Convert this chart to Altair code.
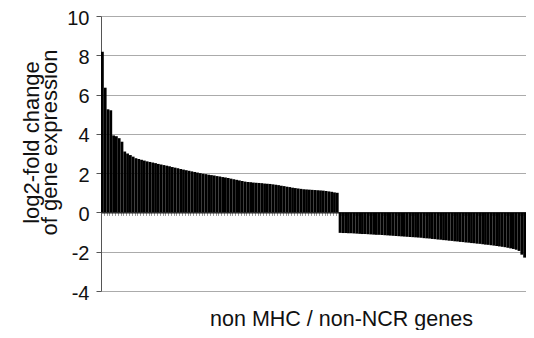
import altair as alt
import pandas as pd

# log2-fold change per gene, sorted descending
positive_values = [
    8.18, 6.35, 5.25, 5.2, 3.92, 3.88, 3.78, 3.6, 3.1, 3.0,
    2.92, 2.84, 2.76, 2.72, 2.68, 2.64, 2.6, 2.57, 2.54, 2.51,
    2.47, 2.44, 2.41, 2.38, 2.35, 2.31, 2.28, 2.25, 2.21, 2.18,
    2.15, 2.12, 2.09, 2.06, 2.03, 2.0, 1.97, 1.95, 1.92, 1.9,
    1.88, 1.85, 1.83, 1.8, 1.78, 1.75, 1.72, 1.69, 1.66, 1.63,
    1.6, 1.57, 1.55, 1.54, 1.52, 1.51, 1.5, 1.49, 1.47, 1.46,
    1.45, 1.43, 1.41, 1.39, 1.36, 1.34, 1.31, 1.29, 1.26, 1.24,
    1.22, 1.2, 1.18, 1.17, 1.16, 1.15, 1.14, 1.13, 1.12, 1.11,
    1.09, 1.07, 1.05, 1.02, 1.0,
]
negative_values = [
    -1.04, -1.05, -1.05, -1.06, -1.06, -1.07, -1.08, -1.09, -1.1, -1.1,
    -1.11, -1.12, -1.13, -1.14, -1.14, -1.15, -1.16, -1.17, -1.18, -1.19,
    -1.2, -1.21, -1.22, -1.23, -1.24, -1.25, -1.26, -1.27, -1.28, -1.29,
    -1.31, -1.32, -1.33, -1.35, -1.36, -1.38, -1.39, -1.41, -1.42, -1.44,
    -1.45, -1.47, -1.48, -1.5, -1.51, -1.53, -1.54, -1.56, -1.57, -1.59,
    -1.6, -1.62, -1.64, -1.65, -1.67, -1.69, -1.71, -1.73, -1.75, -1.77,
    -1.8, -1.83, -1.86, -1.9, -1.96, -2.15, -2.3,
]
y_ticks = [-4, -2, 0, 2, 4, 6, 8, 10]
y_title = ["log2-fold change", "of gene expression"]
x_title = "non MHC / non-NCR genes"

values = positive_values + negative_values
df = pd.DataFrame({"gene": list(range(1, len(values) + 1)), "value": values})

FONT = "Liberation Sans"
H = 275
zero_offset = -4 * H / 14

chart = alt.Chart(df).mark_bar(color="#000000").encode(
    x=alt.X(
        "gene:O",
        sort=None,
        scale=alt.Scale(paddingInner=0, paddingOuter=0),
        axis=alt.Axis(
            labels=False,
            offset=zero_offset,
            domainColor="#000000",
            domainWidth=1,
            tickColor="#9a9a9a",
            tickSize=3,
            tickBand="extent",
            grid=False,
            title=x_title,
            titleFont=FONT,
            titleFontSize=21.5,
            titleFontWeight="normal",
            titleColor="#111111",
            titleX=240,
            titleY=113,
            titleBaseline="alphabetic",
        ),
    ),
    y=alt.Y(
        "value:Q",
        scale=alt.Scale(domain=[-4, 10], nice=False, zero=False),
        axis=alt.Axis(
            values=y_ticks,
            labelExpr="'' + datum.value",
            grid=True,
            gridColor="#ababab",
            gridWidth=1.2,
            domainColor="#555555",
            tickColor="#555555",
            tickSize=5,
            labelFont=FONT,
            labelFontSize=20,
            labelColor="#111111",
            labelPadding=7,
            labelOffset=2,
            labelBaseline="middle",
            title=y_title,
            titleFont=FONT,
            titleFontSize=22,
            titleFontWeight="normal",
            titleColor="#111111",
            titleLineHeight=18,
            titleX=-58,
            titleY=126,
        ),
    ),
).properties(
    width=425,
    height=H,
    autosize=alt.AutoSizeParams(type="none"),
    padding={"left": 93, "top": 8, "right": 0, "bottom": 39},
).configure_view(stroke=None)

chart.save("out.html", embed_options={"renderer": "svg", "actions": False})
